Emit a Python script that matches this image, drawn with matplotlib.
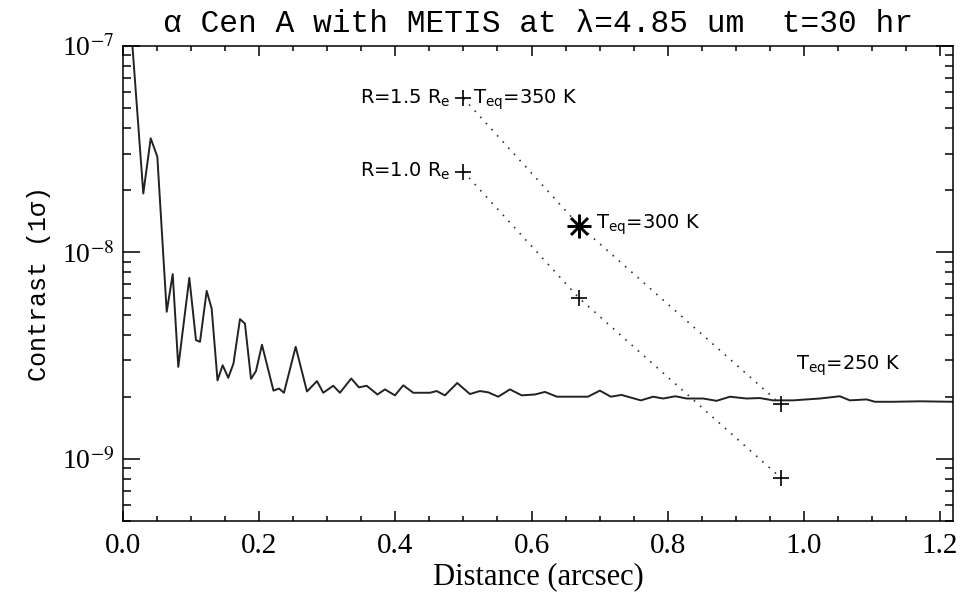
import numpy as np
import matplotlib
matplotlib.use('Agg')
import matplotlib.pyplot as plt

# curva de contraste
dist = [0.0125, 0.0298, 0.0407, 0.0504, 0.0642, 0.0730, 0.0812, 0.0974, 0.1072, 0.1131,
        0.1229, 0.1302, 0.1388, 0.1464, 0.1546, 0.1623, 0.1718, 0.1791, 0.1880, 0.1953,
        0.2041, 0.2210, 0.2291, 0.2364, 0.2536, 0.2702, 0.2849, 0.2941, 0.3088, 0.3186,
        0.3352, 0.3465, 0.3579, 0.3737, 0.3847, 0.3994, 0.4116, 0.4263, 0.4508, 0.4606,
        0.4728, 0.4909, 0.5095, 0.5242, 0.5364, 0.5511, 0.5683, 0.5855, 0.6050, 0.6197,
        0.6373, 0.6828, 0.7004, 0.7166, 0.7320, 0.7606, 0.7787, 0.7934, 0.8113, 0.8277,
        0.8521, 0.8718, 0.8913, 0.9158, 0.9354, 0.9549, 0.9843, 1.0235, 1.0529, 1.0675,
        1.0921, 1.1043, 1.1311, 1.1703, 1.2188]
contraste = [1.15e-7, 1.93e-8, 3.57e-8, 2.91e-8, 5.16e-9, 7.85e-9, 2.79e-9, 7.53e-9, 3.76e-9, 3.69e-9,
             6.51e-9, 5.35e-9, 2.40e-9, 2.84e-9, 2.47e-9, 2.90e-9, 4.75e-9, 4.52e-9, 2.44e-9, 2.66e-9,
             3.57e-9, 2.14e-9, 2.19e-9, 2.09e-9, 3.49e-9, 2.12e-9, 2.38e-9, 2.09e-9, 2.26e-9, 2.09e-9,
             2.45e-9, 2.22e-9, 2.26e-9, 2.05e-9, 2.17e-9, 2.03e-9, 2.27e-9, 2.09e-9, 2.09e-9, 2.13e-9,
             2.03e-9, 2.33e-9, 2.06e-9, 2.13e-9, 2.10e-9, 2.00e-9, 2.17e-9, 2.03e-9, 2.05e-9, 2.11e-9,
             2.00e-9, 2.00e-9, 2.14e-9, 2.00e-9, 2.04e-9, 1.92e-9, 2.00e-9, 1.96e-9, 2.01e-9, 1.96e-9,
             1.96e-9, 1.91e-9, 2.00e-9, 1.96e-9, 1.97e-9, 1.92e-9, 1.92e-9, 1.96e-9, 2.01e-9, 1.92e-9,
             1.94e-9, 1.89e-9, 1.89e-9, 1.90e-9, 1.89e-9]

# planetas (T_eq = 350, 300, 250 K)
planeta_x = [0.50, 0.67, 0.966]
planeta_r15 = [5.58e-8, 1.35e-8, 1.84e-9]
planeta_r10 = [2.46e-8, 6.0e-9, 8.1e-10]

xticks = [0.0, 0.2, 0.4, 0.6, 0.8, 1.0, 1.2]
xticklabels = ['0.0', '0.2', '0.4', '0.6', '0.8', '1.0', '1.2']
yticks = [1e-9, 1e-8, 1e-7]
yticklabels = ['10$^{-9}$', '10$^{-8}$', '10$^{-7}$']

plt.rcParams['mathtext.fontset'] = 'stix'

fig = plt.figure(figsize=(9.67, 5.95), dpi=100)
ax = fig.add_axes([0.1272, 0.1244, 0.8583, 0.7983])

ax.plot(dist, contraste, color='#222222', lw=1.4)
ax.plot(planeta_x, planeta_r15, color='#333333', lw=1.2, ls=(0, (1, 4)))
ax.plot(planeta_x, planeta_r10, color='#333333', lw=1.2, ls=(0, (1, 4)))
ax.plot(planeta_x, planeta_r15, ls='none', marker='+', ms=11, mew=1.2, color='black')
ax.plot(planeta_x, planeta_r10, ls='none', marker='+', ms=11, mew=1.2, color='black')
ax.plot(planeta_x[1], planeta_r15[1], ls='none', marker=(8, 2, 0), ms=17, mew=1.8, color='black')

ax.set_yscale('log')
ax.set_xlim(0, 1.219)
ax.set_ylim(5e-10, 1e-7)

ax.set_xticks(xticks)
ax.set_xticklabels(xticklabels, family='Liberation Serif', fontsize=21)
ax.set_xticks(np.arange(0, 1.22, 0.05), minor=True)
ax.set_yticks(yticks)
ax.set_yticklabels(yticklabels, family='Liberation Serif', fontsize=20)
ax.tick_params(which='both', direction='in', top=True, right=True, width=1.1)
ax.tick_params(axis='x', which='major', length=7.5, pad=9)
ax.tick_params(axis='x', which='minor', length=3.8)
ax.tick_params(axis='y', which='major', length=12, pad=6)
ax.tick_params(axis='y', which='minor', length=6)
ax.yaxis.set_minor_formatter(matplotlib.ticker.NullFormatter())
for s in ax.spines.values():
    s.set_linewidth(1.1)

ax.set_xlabel('Distance (arcsec)', family='Liberation Serif', fontsize=22, labelpad=2)
ax.set_ylabel('Contrast (1σ)', family='Liberation Mono', fontsize=18, labelpad=8)
ax.set_title('α Cen A with METIS at λ=4.85 um  t=30 hr', family='Liberation Mono',
             fontsize=22.5, pad=10)

fuente = dict(family='DejaVu Sans', fontsize=14, math_fontfamily='dejavusans',
              textcoords='offset pixels', va='baseline')
ax.annotate('R=1.5 R$_\\mathrm{e}$', (planeta_x[0], planeta_r15[0]), xytext=(-13, -5), ha='right', **fuente)
ax.annotate('T$_\\mathrm{eq}$=350 K', (planeta_x[0], planeta_r15[0]), xytext=(10, -5), ha='left', **fuente)
ax.annotate('R=1.0 R$_\\mathrm{e}$', (planeta_x[0], planeta_r10[0]), xytext=(-13, -5), ha='right', **fuente)
ax.annotate('T$_\\mathrm{eq}$=300 K', (planeta_x[1], planeta_r15[1]), xytext=(17, -3), ha='left', **fuente)
ax.annotate('T$_\\mathrm{eq}$=250 K', (planeta_x[2], planeta_r15[2]), xytext=(15, 34), ha='left', **fuente)

plt.savefig('out.png', dpi=100)
